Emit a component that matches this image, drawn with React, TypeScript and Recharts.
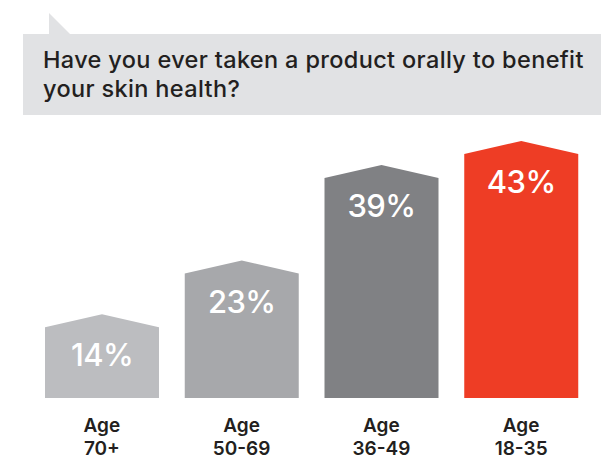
import { BarChart, Bar, XAxis, YAxis, LabelList, Cell } from 'recharts';

const CATEGORIES = ['Age 70+', 'Age 50-69', 'Age 36-49', 'Age 18-35'];
const VALUES = [14, 23, 39, 43];
const COLORS = ['#bcbdc0', '#a7a8ab', '#808184', '#ee3d25'];
const TITLE_LINES = ['Have you ever taken a product orally to benefit', 'your skin health?'];

const FONT = 'Inter, "Liberation Sans", Arial, sans-serif';

const data = CATEGORIES.map((name, i) => ({ name, value: VALUES[i] }));

// bar with a shallow gable on top; the peak sits at the value
const GableBar = (props: any) => {
  const { x, y, width, height, fill } = props;
  const roof = 13;
  const d = `M${x},${y + height} L${x},${y + roof} L${x + width / 2},${y} L${x + width},${y + roof} L${x + width},${y + height} Z`;
  return <path d={d} fill={fill} />;
};

const AgeTick = ({ x, y, payload }: any) => {
  const [first, ...rest] = String(payload.value).split(' ');
  return (
    <text x={x} y={y} textAnchor="middle" fill="#231f20" fontSize={19} fontWeight={600} fontFamily={FONT}>
      <tspan x={x} dy={25.5}>{first}</tspan>
      <tspan x={x} dy={23}>{rest.join(' ')}</tspan>
    </text>
  );
};

const ValueLabel = ({ x, y, width, value }: any) => (
  <text x={x + width / 2} y={y + 52} textAnchor="middle" fill="#ffffff" fontSize={31} fontWeight={500} letterSpacing={-0.6} fontFamily={FONT}>
    {`${value}%`}
  </text>
);

function Header() {
  return (
    <svg width={601} height={120} style={{ position: 'absolute', left: 0, top: 0 }}>
      <path d="M49,13 L70,34 L601,34 L601,115 L23,115 L23,34 L49,34 Z" fill="#e1e2e4" />
      {TITLE_LINES.map((line, i) => (
        <text key={i} x={43} y={68 + i * 29} fill="#231f20" fontSize={23.5} fontWeight={500} letterSpacing={0.35} fontFamily={FONT}>
          {line}
        </text>
      ))}
    </svg>
  );
}

export default function App() {
  return (
    <div style={{ position: 'relative', width: 601, height: 457, background: '#fff' }}>
      <style>{'body{margin:0}'}</style>
      <Header />
      <div style={{ position: 'absolute', left: 0, top: 0 }}>
        <BarChart width={601} height={457} data={data} margin={{ top: 141, right: 10, bottom: 0, left: 32 }}>
          <XAxis dataKey="name" axisLine={false} tickLine={false} height={59} interval={0} tick={<AgeTick />} />
          <YAxis hide domain={[0, 43]} />
          <Bar dataKey="value" barSize={114} shape={<GableBar />} isAnimationActive={false}>
            {data.map((_, i) => (
              <Cell key={i} fill={COLORS[i]} />
            ))}
            <LabelList dataKey="value" content={<ValueLabel />} />
          </Bar>
        </BarChart>
      </div>
    </div>
  );
}
